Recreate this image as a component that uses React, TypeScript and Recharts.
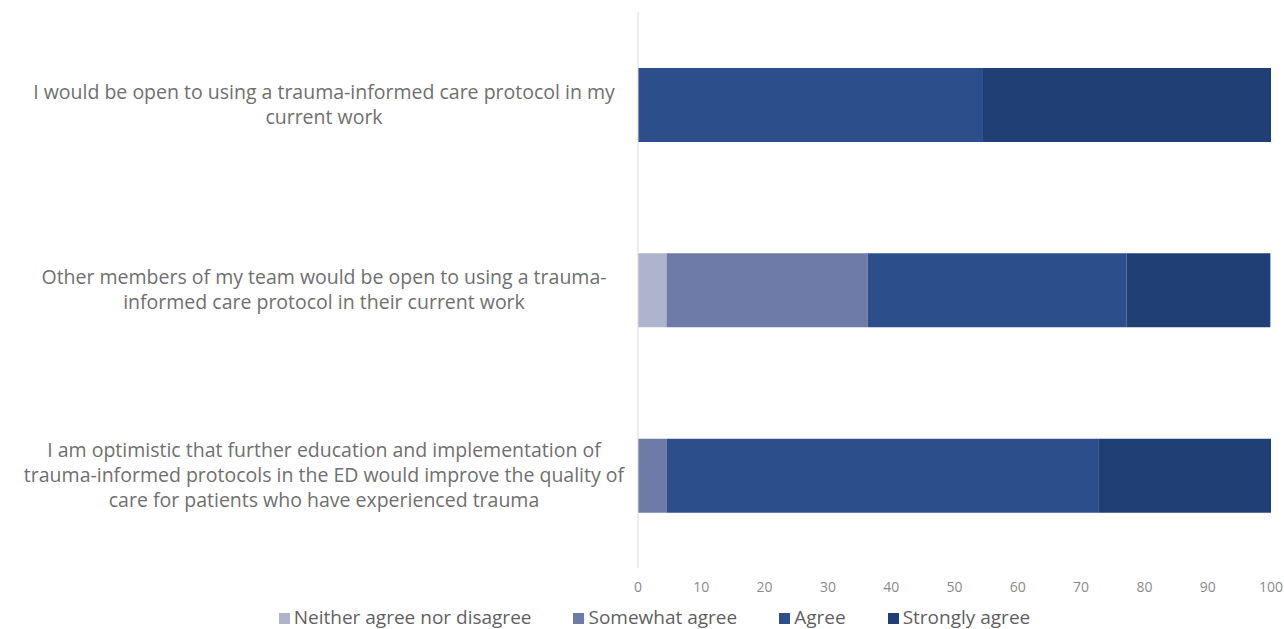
import { BarChart, Bar, XAxis, YAxis, Legend } from 'recharts'

const statements = [
  'I would be open to using a trauma-informed care protocol in my\ncurrent work',
  'Other members of my team would be open to using a trauma-\ninformed care protocol in their current work',
  'I am optimistic that further education and implementation of\ntrauma-informed protocols in the ED would improve the quality of\ncare for patients who have experienced trauma',
]
const neither = [0, 4.5, 0]
const somewhat = [0, 31.8, 4.5]
const agree = [54.5, 40.9, 68.2]
const strongly = [45.5, 22.7, 27.3]
const xTicks = [0, 10, 20, 30, 40, 50, 60, 70, 80, 90, 100]

const series = [
  { key: 'neither', name: 'Neither agree nor disagree', color: '#aeb4cb' },
  { key: 'somewhat', name: 'Somewhat agree', color: '#6e7ba8' },
  { key: 'agree', name: 'Agree', color: '#2c4f8b' },
  { key: 'strongly', name: 'Strongly agree', color: '#203f74' },
]

const data = statements.map((s, i) => ({
  statement: s,
  neither: neither[i],
  somewhat: somewhat[i],
  agree: agree[i],
  strongly: strongly[i],
}))

const FONT = '"Open Sans", sans-serif'

function StatementTick({ x, y, payload }: any) {
  const lines = String(payload.value).split('\n')
  const lh = 25
  const start = y - ((lines.length - 1) * lh) / 2
  return (
    <text x={x - 306} y={start} textAnchor="middle" fill="#6f6f6f" fontSize={19.5} fontFamily={FONT}>
      {lines.map((l, i) => (
        <tspan key={i} x={x - 306} y={start + i * lh} dy="0.35em">
          {l}
        </tspan>
      ))}
    </text>
  )
}

export default function App() {
  return (
    <div style={{ position: 'absolute', left: 0, top: 0, width: 1284, height: 629, background: '#fff' }}>
      <BarChart
        width={1284}
        height={629}
        data={data}
        layout="vertical"
        margin={{ top: 12, right: 13, left: 0, bottom: 0 }}
        barSize={74}
      >
        <XAxis
          type="number"
          domain={[0, 100]}
          ticks={xTicks}
          axisLine={false}
          tickLine={false}
          height={35}
          tick={{ fill: '#8a8a8a', fontSize: 14, fontFamily: FONT }}
          tickMargin={8}
        />
        <YAxis
          type="category"
          dataKey="statement"
          width={638}
          axisLine={{ stroke: '#d9d9d9' }}
          tickLine={false}
          tick={<StatementTick />}
        />
        <Legend
          verticalAlign="bottom"
          height={26}
          iconType="square"
          iconSize={11}
          itemSorter={(item: any) => series.findIndex((s) => s.name === item.value)}
          wrapperStyle={{ fontFamily: FONT, fontSize: 19, bottom: -2, left: 40, width: 1271, lineHeight: '24px' }}
          formatter={(v: string) => <span style={{ color: '#5f5f5f', marginRight: 32 }}>{v}</span>}
        />
        {series.map((s) => (
          <Bar key={s.key} dataKey={s.key} name={s.name} stackId="a" fill={s.color} isAnimationActive={false} />
        ))}
      </BarChart>
    </div>
  )
}
